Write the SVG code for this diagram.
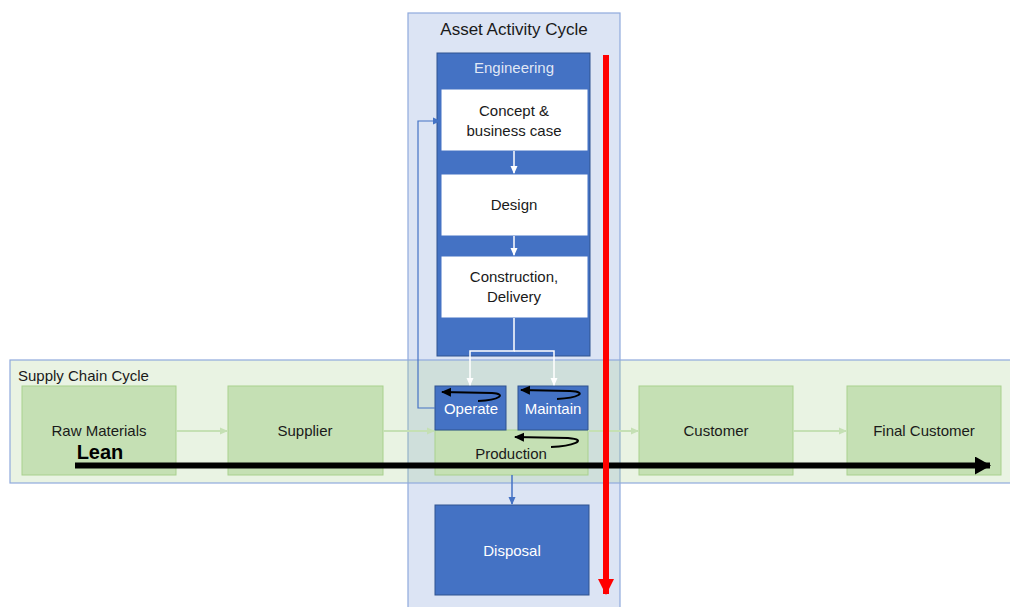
<svg xmlns="http://www.w3.org/2000/svg" width="1010" height="607" viewBox="0 0 1010 607">
  <style>
    .lbl { font-family: "Liberation Sans", "Open Sans", sans-serif; font-size: 15px; fill: #1a1a1a; text-anchor: middle; }
    .wlbl { font-family: "Liberation Sans", "Open Sans", sans-serif; font-size: 15px; fill: #ffffff; text-anchor: middle; }
    .green { fill: #c5e0b4; stroke: #a9d18e; stroke-width: 1; }
    .blue { fill: #4472c4; stroke: #2f528f; stroke-width: 1; }
    .white { fill: #ffffff; stroke: #4472c4; stroke-width: 1; }
    .container { stroke: #8faadc; stroke-width: 1.2; }
  </style>
  <defs>
    <marker id="arrWhite" markerWidth="8" markerHeight="8" refX="7" refY="4" orient="auto" markerUnits="userSpaceOnUse">
      <path d="M0,0.5 L8,4 L0,7.5 Z" fill="#ffffff"/>
    </marker>
    <marker id="arrGreen" markerWidth="8" markerHeight="8" refX="7" refY="4" orient="auto" markerUnits="userSpaceOnUse">
      <path d="M0,0.5 L8,4 L0,7.5 Z" fill="#c5e0b4"/>
    </marker>
    <marker id="arrBlue" markerWidth="8" markerHeight="8" refX="7" refY="4" orient="auto" markerUnits="userSpaceOnUse">
      <path d="M0,0.5 L8,4 L0,7.5 Z" fill="#4472c4"/>
    </marker>
    <marker id="arrBlack" markerWidth="10" markerHeight="10" refX="9" refY="5" orient="auto" markerUnits="userSpaceOnUse">
      <path d="M0,0.5 L10,5 L0,9.5 Z" fill="#000000"/>
    </marker>
    <marker id="arrBigBlack" markerWidth="16" markerHeight="18" refX="15" refY="9" orient="auto" markerUnits="userSpaceOnUse">
      <path d="M0,0 L16,9 L0,18 Z" fill="#000000"/>
    </marker>
    <marker id="arrRed" markerWidth="18" markerHeight="16" refX="15" refY="8" orient="auto" markerUnits="userSpaceOnUse">
      <path d="M0,0 L16,8 L0,16 Z" fill="#ff0000"/>
    </marker>
  </defs>

  <rect width="1010" height="607" fill="#ffffff"/>

  <!-- cycle containers -->
  <g id="asset-cycle">
    <rect class="container" x="408" y="13" width="212" height="600" fill="#4472c4" fill-opacity="0.19"/>
    <text x="514" y="35" font-family="Liberation Sans, Open Sans, sans-serif" font-size="17" fill="#1a1a1a" text-anchor="middle">Asset Activity Cycle</text>
  </g>
  <g id="supply-chain">
    <rect class="container" x="10" y="360" width="1010" height="123" fill="#a9d18e" fill-opacity="0.25"/>
    <text x="18" y="381" font-family="Liberation Sans, Open Sans, sans-serif" font-size="15" fill="#1a1a1a">Supply Chain Cycle</text>
  </g>

  <!-- engineering block -->
  <g id="engineering">
    <rect class="blue" x="437" y="53" width="153" height="303"/>
    <text x="514" y="73" class="wlbl" fill-opacity="0.85">Engineering</text>
  </g>
  <g id="concept">
    <rect class="white" x="441" y="89" width="147" height="62"/>
    <text x="514" y="116" class="lbl">Concept &amp;</text>
    <text x="514" y="136" class="lbl">business case</text>
  </g>
  <g id="design">
    <rect class="white" x="441" y="174" width="147" height="62"/>
    <text x="514" y="210" class="lbl">Design</text>
  </g>
  <g id="construction">
    <rect class="white" x="441" y="256" width="147" height="62"/>
    <text x="514" y="282" class="lbl">Construction,</text>
    <text x="514" y="302" class="lbl">Delivery</text>
  </g>

  <!-- supply chain nodes -->
  <g id="raw-materials">
    <rect class="green" x="22" y="386" width="154" height="89"/>
    <text x="99" y="436" class="lbl">Raw Materials</text>
  </g>
  <g id="supplier">
    <rect class="green" x="228" y="386" width="155" height="89"/>
    <text x="305" y="436" class="lbl">Supplier</text>
  </g>
  <g id="production">
    <rect class="green" x="435" y="430" width="153" height="45"/>
    <text x="511" y="459" class="lbl">Production</text>
  </g>
  <g id="customer">
    <rect class="green" x="639" y="386" width="154" height="89"/>
    <text x="716" y="436" class="lbl">Customer</text>
  </g>
  <g id="final-customer">
    <rect class="green" x="847" y="386" width="154" height="89"/>
    <text x="924" y="436" class="lbl">Final Customer</text>
  </g>
  <g id="operate">
    <rect class="blue" x="435" y="386" width="71" height="44"/>
    <text x="471" y="414" class="wlbl">Operate</text>
  </g>
  <g id="maintain">
    <rect class="blue" x="518" y="386" width="70" height="44"/>
    <text x="553" y="414" class="wlbl">Maintain</text>
  </g>
  <g id="disposal">
    <rect class="blue" x="435" y="505" width="154" height="90"/>
    <text x="512" y="556" class="wlbl">Disposal</text>
  </g>

  <!-- connectors -->
  <g id="connectors" fill="none">
    <path d="M514,151 V173" stroke="#ffffff" stroke-width="1.5" marker-end="url(#arrWhite)"/>
    <path d="M514,236 V255" stroke="#ffffff" stroke-width="1.5" marker-end="url(#arrWhite)"/>
    <path d="M514,318 V351 H470 V385" stroke="#ffffff" stroke-width="1.5" marker-end="url(#arrWhite)"/>
    <path d="M514,351 H554 V385" stroke="#ffffff" stroke-width="1.5" marker-end="url(#arrWhite)"/>

    <path d="M176,431 H227" stroke="#c5e0b4" stroke-width="2" marker-end="url(#arrGreen)"/>
    <path d="M383,431 H434" stroke="#c5e0b4" stroke-width="2" marker-end="url(#arrGreen)"/>
    <path d="M588,431 H638" stroke="#c5e0b4" stroke-width="2" marker-end="url(#arrGreen)"/>
    <path d="M793,431 H846" stroke="#c5e0b4" stroke-width="2" marker-end="url(#arrGreen)"/>

    <path d="M435,408 H418 V121 H440" stroke="#4472c4" stroke-width="1.2" marker-end="url(#arrBlue)"/>
    <path d="M512,475 V504" stroke="#4472c4" stroke-width="1.5" marker-end="url(#arrBlue)"/>

    <!-- recurring loops -->
    <path d="M478,401 C500,400 507,394 492,393 L442,392" stroke="#000000" stroke-width="2" marker-end="url(#arrBlack)"/>
    <path d="M557,399 C578,398 589,392 570,391 L521,390" stroke="#000000" stroke-width="2" marker-end="url(#arrBlack)"/>
    <path d="M551,447 C572,446 590,440 568,438 L515,437" stroke="#000000" stroke-width="2" marker-end="url(#arrBlack)"/>

    <!-- lean flow and asset life arrow -->
    <path d="M75,465.5 H990" stroke="#000000" stroke-width="6" marker-end="url(#arrBigBlack)"/>
    <path d="M606,55 V594" stroke="#ff0000" stroke-width="6" marker-end="url(#arrRed)"/>
  </g>

  <text x="100" y="459" font-family="Liberation Sans, Open Sans, sans-serif" font-size="20" font-weight="bold" fill="#000000" text-anchor="middle">Lean</text>
</svg>
